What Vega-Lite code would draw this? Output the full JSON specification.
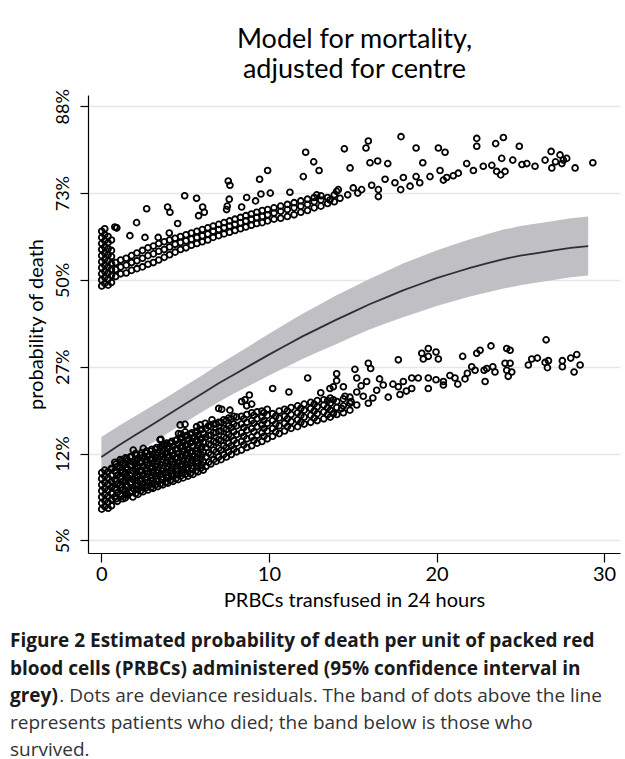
{
  "$schema": "https://vega.github.io/schema/vega-lite/v6.json",
  "width": 532,
  "height": 458,
  "autosize": {"type": "none"},
  "padding": {"left": 88, "top": 95, "right": 5, "bottom": 206},
  "background": "white",
  "config": {"view": {"stroke": null}, "font": "Lato"},
  "title": {
    "text": ["Figure 2 Estimated probability of death per unit of packed red", "blood cells (PRBCs) administered (95% confidence interval in", "grey)"],
    "subtitle": ["\u200b\u00a0\u00a0\u00a0\u00a0\u00a0\u00a0\u00a0\u00a0\u00a0\u00a0. Dots are deviance residuals. The band of dots above the line", "represents patients who died; the band below is those who", "survived."],
    "orient": "bottom", "anchor": "start", "frame": "group", "dx": -78, "offset": 22,
    "font": "Open Sans", "fontSize": 19, "fontWeight": "bold", "color": "#1a1a1a", "lineHeight": 27.5,
    "subtitleFont": "Open Sans", "subtitleFontSize": 19, "subtitleFontWeight": "normal", "subtitleColor": "#333333", "subtitleLineHeight": 27, "subtitlePadding": -19
  },
  "datasets": {
    "fit": [
      {"x": 0, "fit": -2.04, "lo": -2.27, "hi": -1.81},
      {"x": 1, "fit": -1.91, "lo": -2.135, "hi": -1.685},
      {"x": 2, "fit": -1.79, "lo": -2.01, "hi": -1.57},
      {"x": 3, "fit": -1.67, "lo": -1.885, "hi": -1.455},
      {"x": 4, "fit": -1.55, "lo": -1.76, "hi": -1.34},
      {"x": 5, "fit": -1.43, "lo": -1.64, "hi": -1.22},
      {"x": 6, "fit": -1.31, "lo": -1.52, "hi": -1.10},
      {"x": 7, "fit": -1.19, "lo": -1.405, "hi": -0.975},
      {"x": 8, "fit": -1.08, "lo": -1.30, "hi": -0.86},
      {"x": 9, "fit": -0.97, "lo": -1.20, "hi": -0.74},
      {"x": 10, "fit": -0.86, "lo": -1.10, "hi": -0.62},
      {"x": 11, "fit": -0.755, "lo": -1.005, "hi": -0.505},
      {"x": 12, "fit": -0.65, "lo": -0.91, "hi": -0.39},
      {"x": 13, "fit": -0.555, "lo": -0.825, "hi": -0.285},
      {"x": 14, "fit": -0.46, "lo": -0.74, "hi": -0.18},
      {"x": 15, "fit": -0.37, "lo": -0.655, "hi": -0.085},
      {"x": 16, "fit": -0.28, "lo": -0.57, "hi": 0.01},
      {"x": 17, "fit": -0.20, "lo": -0.50, "hi": 0.10},
      {"x": 18, "fit": -0.12, "lo": -0.43, "hi": 0.19},
      {"x": 19, "fit": -0.05, "lo": -0.365, "hi": 0.265},
      {"x": 20, "fit": 0.02, "lo": -0.30, "hi": 0.34},
      {"x": 21, "fit": 0.08, "lo": -0.245, "hi": 0.405},
      {"x": 22, "fit": 0.14, "lo": -0.19, "hi": 0.47},
      {"x": 23, "fit": 0.19, "lo": -0.145, "hi": 0.525},
      {"x": 24, "fit": 0.24, "lo": -0.10, "hi": 0.58},
      {"x": 25, "fit": 0.28, "lo": -0.06, "hi": 0.62},
      {"x": 26, "fit": 0.31, "lo": -0.03, "hi": 0.65},
      {"x": 27, "fit": 0.34, "lo": 0.00, "hi": 0.68},
      {"x": 28, "fit": 0.37, "lo": 0.03, "hi": 0.71},
      {"x": 29.05, "fit": 0.39, "lo": 0.05, "hi": 0.73}
    ],
    "dots": [
      {"x":0.02,"y":-0.07},{"x":0.02,"y":0.00},{"x":0.02,"y":0.07},{"x":0.02,"y":0.14},{"x":0.02,"y":0.21},{"x":0.02,"y":0.28},{"x":0.02,"y":0.35},{"x":0.02,"y":0.42},{"x":0.02,"y":0.49},{"x":0.02,"y":0.56},
      {"x":0.2,"y":-0.04},{"x":0.2,"y":0.03},{"x":0.2,"y":0.10},{"x":0.2,"y":0.17},{"x":0.2,"y":0.24},{"x":0.2,"y":0.31},{"x":0.2,"y":0.38},{"x":0.2,"y":0.45},{"x":0.2,"y":0.52},{"x":0.2,"y":0.59},
      {"x":0.4,"y":-0.06},{"x":0.4,"y":0.01},{"x":0.4,"y":0.08},{"x":0.4,"y":0.15},{"x":0.4,"y":0.22},{"x":0.4,"y":0.29},{"x":0.4,"y":0.36},{"x":0.4,"y":0.43},{"x":0.4,"y":0.50},
      {"x":0.6,"y":-0.03},{"x":0.6,"y":0.05},{"x":0.6,"y":0.12},{"x":0.6,"y":0.19},{"x":0.6,"y":0.27},{"x":0.6,"y":0.34},{"x":0.6,"y":0.46},
      {"x":0.8,"y":0.61},{"x":0.91,"y":0.60},
      {"x":0.85,"y":0.04},{"x":0.85,"y":0.12},{"x":0.85,"y":0.20},
      {"x":1.15,"y":0.07},{"x":1.15,"y":0.15},{"x":1.15,"y":0.23},
      {"x":1.48,"y":0.08},{"x":1.48,"y":0.17},{"x":1.48,"y":0.25},
      {"x":1.80,"y":0.11},{"x":1.80,"y":0.20},{"x":1.80,"y":0.28},
      {"x":2.12,"y":0.13},{"x":2.12,"y":0.22},{"x":2.12,"y":0.31},
      {"x":2.45,"y":0.15},{"x":2.45,"y":0.25},{"x":2.45,"y":0.34},
      {"x":2.78,"y":0.18},{"x":2.78,"y":0.28},{"x":2.78,"y":0.37},
      {"x":3.10,"y":0.20},{"x":3.10,"y":0.30},{"x":3.10,"y":0.39},
      {"x":3.42,"y":0.23},{"x":3.42,"y":0.33},{"x":3.42,"y":0.42},
      {"x":3.75,"y":0.26},{"x":3.75,"y":0.35},{"x":3.75,"y":0.44},
      {"x":4.07,"y":0.29},{"x":4.07,"y":0.38},{"x":4.07,"y":0.46},
      {"x":4.40,"y":0.32},{"x":4.40,"y":0.41},{"x":4.40,"y":0.48},
      {"x":4.72,"y":0.35},{"x":4.72,"y":0.43},{"x":4.72,"y":0.50},
      {"x":5.05,"y":0.37},{"x":5.05,"y":0.45},{"x":5.05,"y":0.52},
      {"x":5.37,"y":0.40},{"x":5.37,"y":0.47},{"x":5.37,"y":0.54},
      {"x":5.70,"y":0.42},{"x":5.70,"y":0.49},{"x":5.70,"y":0.56},
      {"x":6.02,"y":0.44},{"x":6.02,"y":0.51},{"x":6.02,"y":0.58},
      {"x":6.35,"y":0.46},{"x":6.35,"y":0.53},{"x":6.35,"y":0.60},
      {"x":6.67,"y":0.49},{"x":6.67,"y":0.56},{"x":6.67,"y":0.62},
      {"x":7.00,"y":0.51},{"x":7.00,"y":0.58},{"x":7.00,"y":0.64},
      {"x":7.32,"y":0.53},{"x":7.32,"y":0.60},{"x":7.32,"y":0.66},
      {"x":7.65,"y":0.55},{"x":7.65,"y":0.62},{"x":7.65,"y":0.68},
      {"x":7.97,"y":0.57},{"x":7.97,"y":0.64},{"x":7.97,"y":0.70},
      {"x":8.30,"y":0.59},{"x":8.30,"y":0.66},{"x":8.30,"y":0.72},
      {"x":8.62,"y":0.61},{"x":8.62,"y":0.68},{"x":8.62,"y":0.74},
      {"x":8.95,"y":0.63},{"x":8.95,"y":0.70},{"x":8.95,"y":0.76},
      {"x":9.27,"y":0.65},{"x":9.27,"y":0.72},{"x":9.27,"y":0.78},
      {"x":9.60,"y":0.66},{"x":9.60,"y":0.73},{"x":9.60,"y":0.80},
      {"x":9.92,"y":0.68},{"x":9.92,"y":0.75},{"x":9.92,"y":0.81},
      {"x":10.3,"y":0.70},{"x":10.3,"y":0.77},{"x":10.3,"y":0.83},
      {"x":10.7,"y":0.71},{"x":10.7,"y":0.79},{"x":10.7,"y":0.85},
      {"x":11.1,"y":0.73},{"x":11.1,"y":0.81},{"x":11.1,"y":0.87},
      {"x":11.5,"y":0.75},{"x":11.5,"y":0.83},{"x":11.5,"y":0.89},
      {"x":11.9,"y":0.78},{"x":11.9,"y":0.85},{"x":11.9,"y":0.91},
      {"x":12.3,"y":0.80},{"x":12.3,"y":0.87},{"x":12.3,"y":0.93},
      {"x":12.7,"y":0.83},{"x":12.7,"y":0.90},{"x":12.7,"y":0.95},
      {"x":13.1,"y":0.85},{"x":13.1,"y":0.92},{"x":13.1,"y":0.97},
      {"x":13.5,"y":0.88},{"x":13.5,"y":0.95},
      {"x":13.9,"y":0.90},{"x":13.9,"y":0.98},
      {"x":0.91,"y":0.60},{"x":1.70,"y":0.51},{"x":2.10,"y":0.66},{"x":2.70,"y":0.82},{"x":2.60,"y":0.49},{"x":3.39,"y":0.49},{"x":3.95,"y":0.84},{"x":4.09,"y":0.78},{"x":4.55,"y":0.65},{"x":4.05,"y":0.54},{"x":4.97,"y":0.97},{"x":5.68,"y":0.94},{"x":6.04,"y":0.84},{"x":5.80,"y":0.74},{"x":6.14,"y":0.78},{"x":7.57,"y":1.14},{"x":7.67,"y":1.09},{"x":7.63,"y":0.93},{"x":7.51,"y":0.85},{"x":7.47,"y":0.81},{"x":8.37,"y":0.84},{"x":8.67,"y":0.95},{"x":9.20,"y":0.91},{"x":9.44,"y":1.16},{"x":9.52,"y":0.99},{"x":9.92,"y":1.26},{"x":10.08,"y":1.00},{"x":11.25,"y":1.01},{"x":12.05,"y":1.19},{"x":12.19,"y":1.47},{"x":12.67,"y":1.36},{"x":12.99,"y":1.26},{"x":12.85,"y":0.98},{"x":14.50,"y":1.51},{"x":14.14,"y":1.04},{"x":14.84,"y":1.29},
      {"x":15.79,"y":1.52},{"x":15.93,"y":1.60},{"x":16.03,"y":1.35},{"x":16.49,"y":1.37},{"x":17.09,"y":1.34},{"x":17.88,"y":1.65},{"x":18.78,"y":1.52},{"x":19.18,"y":1.35},{"x":20.11,"y":1.52},{"x":20.51,"y":1.47},{"x":22.40,"y":1.63},{"x":22.40,"y":1.54},{"x":23.53,"y":1.57},{"x":23.99,"y":1.64},{"x":24.94,"y":1.54},{"x":26.84,"y":1.48},{"x":28.27,"y":1.29},{"x":29.33,"y":1.35},
      {"x":13.64,"y":0.92},{"x":14.04,"y":1.02},{"x":14.24,"y":0.94},{"x":15.03,"y":1.06},{"x":15.53,"y":1.04},{"x":16.13,"y":1.09},{"x":16.53,"y":1.04},{"x":16.53,"y":0.96},{"x":16.93,"y":1.16},{"x":17.52,"y":1.12},{"x":17.86,"y":1.04},{"x":18.02,"y":1.18},{"x":18.42,"y":1.08},{"x":18.78,"y":1.19},{"x":19.61,"y":1.19},{"x":20.21,"y":1.26},{"x":20.41,"y":1.15},{"x":20.61,"y":1.18},{"x":21.30,"y":1.23},{"x":21.80,"y":1.34},{"x":22.20,"y":1.26},{"x":22.79,"y":1.31},{"x":23.30,"y":1.32},{"x":23.59,"y":1.25},{"x":23.89,"y":1.40},{"x":23.83,"y":1.21},{"x":24.09,"y":1.25},{"x":24.55,"y":1.38},{"x":25.39,"y":1.34},{"x":25.88,"y":1.31},{"x":26.48,"y":1.38},{"x":26.88,"y":1.29},{"x":27.37,"y":1.44},{"x":27.57,"y":1.38},{"x":27.48,"y":1.34},{"x":27.77,"y":1.40},{"x":14.7,"y":0.98},{"x":15.3,"y":1.00},{"x":19.0,"y":1.12},{"x":21.0,"y":1.20},{"x":25.1,"y":1.33},{"x":27.1,"y":1.36},
      {"x":0.02,"y":-2.64},{"x":0.02,"y":-2.57},{"x":0.02,"y":-2.50},{"x":0.02,"y":-2.43},{"x":0.02,"y":-2.36},{"x":0.02,"y":-2.29},{"x":0.02,"y":-2.22},
      {"x":0.2,"y":-2.61},{"x":0.2,"y":-2.54},{"x":0.2,"y":-2.47},{"x":0.2,"y":-2.40},{"x":0.2,"y":-2.33},{"x":0.2,"y":-2.26},{"x":0.2,"y":-2.19},
      {"x":0.4,"y":-2.63},{"x":0.4,"y":-2.56},{"x":0.4,"y":-2.49},{"x":0.4,"y":-2.42},{"x":0.4,"y":-2.35},{"x":0.4,"y":-2.28},{"x":0.4,"y":-2.21},
      {"x":0.6,"y":-2.60},{"x":0.6,"y":-2.53},{"x":0.6,"y":-2.46},{"x":0.6,"y":-2.39},{"x":0.6,"y":-2.32},{"x":0.6,"y":-2.25},{"x":0.6,"y":-2.18},
      {"x":0.80,"y":-2.50},{"x":0.80,"y":-2.40},{"x":0.80,"y":-2.30},{"x":0.80,"y":-2.20},{"x":0.80,"y":-2.10},
      {"x":1.12,"y":-2.47},{"x":1.12,"y":-2.36},{"x":1.12,"y":-2.27},{"x":1.12,"y":-2.16},{"x":1.12,"y":-2.07},
      {"x":1.43,"y":-2.51},{"x":1.43,"y":-2.42},{"x":1.43,"y":-2.31},{"x":1.43,"y":-2.22},{"x":1.43,"y":-2.12},{"x":1.43,"y":-2.05},
      {"x":1.71,"y":-2.45},{"x":1.71,"y":-2.34},{"x":1.71,"y":-2.25},{"x":1.71,"y":-2.14},{"x":1.71,"y":-2.04},
      {"x":2.04,"y":-2.46},{"x":2.04,"y":-2.37},{"x":2.04,"y":-2.28},{"x":2.04,"y":-2.18},{"x":2.04,"y":-2.08},{"x":2.04,"y":-2.00},
      {"x":2.33,"y":-2.43},{"x":2.33,"y":-2.32},{"x":2.33,"y":-2.21},{"x":2.33,"y":-2.11},{"x":2.33,"y":-2.02},
      {"x":2.62,"y":-2.40},{"x":2.62,"y":-2.30},{"x":2.62,"y":-2.20},{"x":2.62,"y":-2.10},{"x":2.62,"y":-1.99},
      {"x":2.95,"y":-2.39},{"x":2.95,"y":-2.28},{"x":2.95,"y":-2.17},{"x":2.95,"y":-2.07},{"x":2.95,"y":-1.97},
      {"x":3.22,"y":-2.36},{"x":3.22,"y":-2.26},{"x":3.22,"y":-2.15},{"x":3.22,"y":-2.05},{"x":3.22,"y":-1.95},
      {"x":3.51,"y":-2.35},{"x":3.51,"y":-2.24},{"x":3.51,"y":-2.13},{"x":3.51,"y":-2.03},{"x":3.51,"y":-1.93},
      {"x":3.83,"y":-2.33},{"x":3.83,"y":-2.22},{"x":3.83,"y":-2.11},{"x":3.83,"y":-2.00},{"x":3.83,"y":-1.90},
      {"x":4.12,"y":-2.31},{"x":4.12,"y":-2.20},{"x":4.12,"y":-2.09},{"x":4.12,"y":-1.98},{"x":4.12,"y":-1.88},
      {"x":4.44,"y":-2.29},{"x":4.44,"y":-2.18},{"x":4.44,"y":-2.06},{"x":4.44,"y":-1.95},{"x":4.44,"y":-1.85},
      {"x":4.73,"y":-2.26},{"x":4.73,"y":-2.15},{"x":4.73,"y":-2.04},{"x":4.73,"y":-1.93},{"x":4.73,"y":-1.83},
      {"x":5.02,"y":-2.24},{"x":5.02,"y":-2.13},{"x":5.02,"y":-2.02},{"x":5.02,"y":-1.91},{"x":5.02,"y":-1.80},
      {"x":5.31,"y":-2.23},{"x":5.31,"y":-2.11},{"x":5.31,"y":-1.99},{"x":5.31,"y":-1.88},{"x":5.31,"y":-1.78},
      {"x":5.63,"y":-2.20},{"x":5.63,"y":-2.09},{"x":5.63,"y":-1.97},{"x":5.63,"y":-1.86},{"x":5.63,"y":-1.76},
      {"x":5.92,"y":-2.17},{"x":5.92,"y":-2.06},{"x":5.92,"y":-1.95},{"x":5.92,"y":-1.84},{"x":5.92,"y":-1.73},
      {"x":6.24,"y":-2.15},{"x":6.24,"y":-2.04},{"x":6.24,"y":-1.93},{"x":6.24,"y":-1.81},{"x":6.24,"y":-1.71},
      {"x":6.53,"y":-2.12},{"x":6.53,"y":-2.01},{"x":6.53,"y":-1.90},{"x":6.53,"y":-1.79},{"x":6.53,"y":-1.69},
      {"x":6.85,"y":-2.09},{"x":6.85,"y":-1.98},{"x":6.85,"y":-1.87},{"x":6.85,"y":-1.76},{"x":6.85,"y":-1.66},
      {"x":7.14,"y":-2.07},{"x":7.14,"y":-1.96},{"x":7.14,"y":-1.85},{"x":7.14,"y":-1.74},{"x":7.14,"y":-1.64},
      {"x":7.46,"y":-2.04},{"x":7.46,"y":-1.93},{"x":7.46,"y":-1.82},{"x":7.46,"y":-1.72},{"x":7.46,"y":-1.62},
      {"x":7.75,"y":-2.01},{"x":7.75,"y":-1.91},{"x":7.75,"y":-1.80},{"x":7.75,"y":-1.70},{"x":7.75,"y":-1.60},
      {"x":8.07,"y":-1.98},{"x":8.07,"y":-1.88},{"x":8.07,"y":-1.78},{"x":8.07,"y":-1.68},{"x":8.07,"y":-1.58},
      {"x":8.36,"y":-1.96},{"x":8.36,"y":-1.86},{"x":8.36,"y":-1.76},{"x":8.36,"y":-1.66},{"x":8.36,"y":-1.57},
      {"x":8.68,"y":-1.93},{"x":8.68,"y":-1.83},{"x":8.68,"y":-1.73},{"x":8.68,"y":-1.64},{"x":8.68,"y":-1.55},
      {"x":8.97,"y":-1.91},{"x":8.97,"y":-1.81},{"x":8.97,"y":-1.71},{"x":8.97,"y":-1.62},{"x":8.97,"y":-1.53},
      {"x":9.29,"y":-1.88},{"x":9.29,"y":-1.79},{"x":9.29,"y":-1.69},{"x":9.29,"y":-1.60},{"x":9.29,"y":-1.52},
      {"x":9.58,"y":-1.86},{"x":9.58,"y":-1.76},{"x":9.58,"y":-1.67},{"x":9.58,"y":-1.58},{"x":9.58,"y":-1.51},
      {"x":9.90,"y":-1.83},{"x":9.90,"y":-1.74},{"x":9.90,"y":-1.65},{"x":9.90,"y":-1.56},{"x":9.90,"y":-1.49},
      {"x":10.22,"y":-1.80},{"x":10.22,"y":-1.71},{"x":10.22,"y":-1.62},{"x":10.22,"y":-1.54},
      {"x":10.61,"y":-1.77},{"x":10.61,"y":-1.68},{"x":10.61,"y":-1.59},{"x":10.61,"y":-1.51},
      {"x":10.93,"y":-1.74},{"x":10.93,"y":-1.65},{"x":10.93,"y":-1.57},{"x":10.93,"y":-1.49},
      {"x":11.32,"y":-1.71},{"x":11.32,"y":-1.63},{"x":11.32,"y":-1.55},{"x":11.32,"y":-1.47},
      {"x":11.71,"y":-1.69},{"x":11.71,"y":-1.61},{"x":11.71,"y":-1.53},{"x":11.71,"y":-1.45},
      {"x":12.10,"y":-1.66},{"x":12.10,"y":-1.58},{"x":12.10,"y":-1.50},{"x":12.10,"y":-1.43},
      {"x":12.49,"y":-1.64},{"x":12.49,"y":-1.56},{"x":12.49,"y":-1.48},{"x":12.49,"y":-1.41},
      {"x":12.88,"y":-1.62},{"x":12.88,"y":-1.54},{"x":12.88,"y":-1.46},{"x":12.88,"y":-1.39},
      {"x":13.27,"y":-1.60},{"x":13.27,"y":-1.52},{"x":13.27,"y":-1.44},{"x":13.27,"y":-1.38},
      {"x":13.66,"y":-1.58},{"x":13.66,"y":-1.50},{"x":13.66,"y":-1.42},{"x":13.66,"y":-1.36},
      {"x":14.05,"y":-1.55},{"x":14.05,"y":-1.47},{"x":14.05,"y":-1.40},
      {"x":14.44,"y":-1.53},{"x":14.44,"y":-1.45},{"x":14.44,"y":-1.37},
      {"x":14.83,"y":-1.50},{"x":14.83,"y":-1.42},{"x":14.83,"y":-1.35},
      {"x":0.95,"y":-2.55},{"x":0.95,"y":-2.45},{"x":0.95,"y":-2.35},{"x":0.95,"y":-2.25},{"x":0.95,"y":-2.15},
      {"x":1.27,"y":-2.52},{"x":1.27,"y":-2.42},{"x":1.27,"y":-2.32},{"x":1.27,"y":-2.21},{"x":1.27,"y":-2.11},
      {"x":1.57,"y":-2.48},{"x":1.57,"y":-2.38},{"x":1.57,"y":-2.28},{"x":1.57,"y":-2.18},{"x":1.57,"y":-2.08},
      {"x":1.88,"y":-2.50},{"x":1.88,"y":-2.40},{"x":1.88,"y":-2.30},{"x":1.88,"y":-2.20},{"x":1.88,"y":-2.10},
      {"x":2.18,"y":-2.47},{"x":2.18,"y":-2.37},{"x":2.18,"y":-2.26},{"x":2.18,"y":-2.16},{"x":2.18,"y":-2.06},
      {"x":2.48,"y":-2.44},{"x":2.48,"y":-2.35},{"x":2.48,"y":-2.25},{"x":2.48,"y":-2.15},{"x":2.48,"y":-2.05},
      {"x":2.78,"y":-2.42},{"x":2.78,"y":-2.33},{"x":2.78,"y":-2.23},{"x":2.78,"y":-2.13},{"x":2.78,"y":-2.03},
      {"x":3.08,"y":-2.40},{"x":3.08,"y":-2.31},{"x":3.08,"y":-2.21},{"x":3.08,"y":-2.11},{"x":3.08,"y":-2.01},
      {"x":3.37,"y":-2.38},{"x":3.37,"y":-2.29},{"x":3.37,"y":-2.19},{"x":3.37,"y":-2.09},{"x":3.37,"y":-1.99},
      {"x":3.67,"y":-2.36},{"x":3.67,"y":-2.27},{"x":3.67,"y":-2.17},{"x":3.67,"y":-2.07},{"x":3.67,"y":-1.97},
      {"x":3.97,"y":-2.34},{"x":3.97,"y":-2.25},{"x":3.97,"y":-2.15},{"x":3.97,"y":-2.04},{"x":3.97,"y":-1.94},
      {"x":4.28,"y":-2.32},{"x":4.28,"y":-2.23},{"x":4.28,"y":-2.12},{"x":4.28,"y":-2.02},{"x":4.28,"y":-1.92},
      {"x":4.58,"y":-2.30},{"x":4.58,"y":-2.20},{"x":4.58,"y":-2.10},{"x":4.58,"y":-2.00},{"x":4.58,"y":-1.89},
      {"x":4.88,"y":-2.28},{"x":4.88,"y":-2.18},{"x":4.88,"y":-2.08},{"x":4.88,"y":-1.97},{"x":4.88,"y":-1.87},
      {"x":5.17,"y":-2.26},{"x":5.17,"y":-2.16},{"x":5.17,"y":-2.06},{"x":5.17,"y":-1.95},{"x":5.17,"y":-1.84},
      {"x":5.47,"y":-2.24},{"x":5.47,"y":-2.14},{"x":5.47,"y":-2.03},{"x":5.47,"y":-1.92},{"x":5.47,"y":-1.82},
      {"x":5.77,"y":-2.21},{"x":5.77,"y":-2.11},{"x":5.77,"y":-2.00},{"x":5.77,"y":-1.90},{"x":5.77,"y":-1.79},
      {"x":6.08,"y":-2.19},{"x":6.08,"y":-2.09},{"x":6.08,"y":-1.98},{"x":6.08,"y":-1.87},{"x":6.08,"y":-1.77},
      {"x":0.88,"y":-2.52},{"x":0.88,"y":-2.42},{"x":0.88,"y":-2.32},{"x":0.88,"y":-2.22},{"x":0.88,"y":-2.12},
      {"x":1.20,"y":-2.49},{"x":1.20,"y":-2.39},{"x":1.20,"y":-2.29},{"x":1.20,"y":-2.19},{"x":1.20,"y":-2.09},
      {"x":1.50,"y":-2.46},{"x":1.50,"y":-2.36},{"x":1.50,"y":-2.26},{"x":1.50,"y":-2.16},{"x":1.50,"y":-2.06},
      {"x":1.80,"y":-2.43},{"x":1.80,"y":-2.33},{"x":1.80,"y":-2.23},{"x":1.80,"y":-2.13},{"x":1.80,"y":-2.03},
      {"x":2.10,"y":-2.41},{"x":2.10,"y":-2.31},{"x":2.10,"y":-2.21},{"x":2.10,"y":-2.11},{"x":2.10,"y":-2.02},
      {"x":2.40,"y":-2.39},{"x":2.40,"y":-2.29},{"x":2.40,"y":-2.19},{"x":2.40,"y":-2.09},{"x":2.40,"y":-1.99},
      {"x":2.70,"y":-2.37},{"x":2.70,"y":-2.27},{"x":2.70,"y":-2.17},{"x":2.70,"y":-2.07},{"x":2.70,"y":-1.97},
      {"x":3.00,"y":-2.35},{"x":3.00,"y":-2.25},{"x":3.00,"y":-2.15},{"x":3.00,"y":-2.05},{"x":3.00,"y":-1.95},
      {"x":3.30,"y":-2.32},{"x":3.30,"y":-2.22},{"x":3.30,"y":-2.12},{"x":3.30,"y":-2.02},{"x":3.30,"y":-1.93},
      {"x":3.60,"y":-2.30},{"x":3.60,"y":-2.20},{"x":3.60,"y":-2.10},{"x":3.60,"y":-2.00},{"x":3.60,"y":-1.91},
      {"x":3.90,"y":-2.28},{"x":3.90,"y":-2.18},{"x":3.90,"y":-2.08},{"x":3.90,"y":-1.98},{"x":3.90,"y":-1.88},
      {"x":4.20,"y":-2.26},{"x":4.20,"y":-2.16},{"x":4.20,"y":-2.06},{"x":4.20,"y":-1.96},{"x":4.20,"y":-1.86},
      {"x":4.50,"y":-2.24},{"x":4.50,"y":-2.14},{"x":4.50,"y":-2.04},{"x":4.50,"y":-1.94},{"x":4.50,"y":-1.84},
      {"x":4.80,"y":-2.22},{"x":4.80,"y":-2.12},{"x":4.80,"y":-2.01},{"x":4.80,"y":-1.91},{"x":4.80,"y":-1.81},
      {"x":5.10,"y":-2.19},{"x":5.10,"y":-2.09},{"x":5.10,"y":-1.99},{"x":5.10,"y":-1.89},{"x":5.10,"y":-1.79},
      {"x":5.40,"y":-2.17},{"x":5.40,"y":-2.07},{"x":5.40,"y":-1.97},{"x":5.40,"y":-1.86},{"x":5.40,"y":-1.76},
      {"x":5.70,"y":-2.15},{"x":5.70,"y":-2.05},{"x":5.70,"y":-1.94},{"x":5.70,"y":-1.84},{"x":5.70,"y":-1.74},
      {"x":6.00,"y":-2.13},{"x":6.00,"y":-2.02},{"x":6.00,"y":-1.92},{"x":6.00,"y":-1.82},{"x":6.00,"y":-1.72},
      {"x":6.40,"y":-2.10},{"x":6.40,"y":-1.99},{"x":6.40,"y":-1.89},{"x":6.40,"y":-1.79},{"x":6.40,"y":-1.68},
      {"x":6.70,"y":-2.07},{"x":6.70,"y":-1.96},{"x":6.70,"y":-1.86},{"x":6.70,"y":-1.76},{"x":6.70,"y":-1.66},
      {"x":7.00,"y":-2.04},{"x":7.00,"y":-1.94},{"x":7.00,"y":-1.84},{"x":7.00,"y":-1.74},{"x":7.00,"y":-1.64},
      {"x":7.30,"y":-2.01},{"x":7.30,"y":-1.91},{"x":7.30,"y":-1.81},{"x":7.30,"y":-1.71},{"x":7.30,"y":-1.61},
      {"x":7.60,"y":-1.98},{"x":7.60,"y":-1.88},{"x":7.60,"y":-1.78},{"x":7.60,"y":-1.68},{"x":7.60,"y":-1.59},
      {"x":7.90,"y":-1.95},{"x":7.90,"y":-1.85},{"x":7.90,"y":-1.75},{"x":7.90,"y":-1.66},{"x":7.90,"y":-1.57},
      {"x":8.5,"y":-1.90},{"x":8.5,"y":-1.80},{"x":8.5,"y":-1.70},{"x":8.5,"y":-1.60},
      {"x":9.1,"y":-1.85},{"x":9.1,"y":-1.75},{"x":9.1,"y":-1.65},{"x":9.1,"y":-1.56},
      {"x":9.7,"y":-1.80},{"x":9.7,"y":-1.71},{"x":9.7,"y":-1.62},{"x":9.7,"y":-1.53},
      {"x":10.4,"y":-1.75},{"x":10.4,"y":-1.66},{"x":10.4,"y":-1.57},
      {"x":11.1,"y":-1.69},{"x":11.1,"y":-1.60},{"x":11.1,"y":-1.51},
      {"x":11.9,"y":-1.64},{"x":11.9,"y":-1.56},{"x":11.9,"y":-1.48},
      {"x":12.7,"y":-1.59},{"x":12.7,"y":-1.51},{"x":12.7,"y":-1.43},
      {"x":13.5,"y":-1.55},{"x":13.5,"y":-1.47},{"x":13.5,"y":-1.39},
      {"x":0.6,"y":-2.17},{"x":1.9,"y":-1.96},{"x":2.5,"y":-1.94},{"x":3.5,"y":-1.84},{"x":3.7,"y":-1.90},{"x":4.6,"y":-1.77},{"x":5.0,"y":-1.75},{"x":4.7,"y":-1.67},{"x":5.9,"y":-1.67},{"x":6.2,"y":-1.65},{"x":6.6,"y":-1.61},{"x":7.0,"y":-1.48},
      {"x":3.55,"y":-1.835},{"x":4.75,"y":-1.774},{"x":4.99,"y":-1.663},{"x":5.68,"y":-1.69},{"x":7.18,"y":-1.49},{"x":7.67,"y":-1.50},{"x":8.37,"y":-1.40},{"x":8.57,"y":-1.38},{"x":8.83,"y":-1.325},{"x":8.97,"y":-1.43},{"x":8.67,"y":-1.45},{"x":10.22,"y":-1.25},{"x":11.19,"y":-1.29},{"x":12.31,"y":-1.13},{"x":13.09,"y":-1.30},{"x":13.64,"y":-1.25},{"x":14.04,"y":-1.08},{"x":14.04,"y":-1.16},{"x":14.54,"y":-1.34},
      {"x":13.84,"y":-1.23},{"x":14.44,"y":-1.23},{"x":13.84,"y":-1.38},{"x":14.34,"y":-1.48},{"x":13.84,"y":-1.54},{"x":15.13,"y":-1.03},{"x":15.24,"y":-1.13},{"x":15.93,"y":-0.96},{"x":16.07,"y":-1.02},{"x":15.83,"y":-1.17},{"x":15.24,"y":-1.29},{"x":15.24,"y":-1.44},{"x":15.93,"y":-1.42},{"x":15.63,"y":-1.34},{"x":16.43,"y":-1.27},{"x":16.82,"y":-1.21},{"x":17.12,"y":-1.35},{"x":17.72,"y":-0.92},{"x":17.72,"y":-1.23},{"x":17.82,"y":-1.32},{"x":18.02,"y":-1.17},{"x":18.52,"y":-1.13},{"x":18.52,"y":-1.25},{"x":19.12,"y":-0.845},{"x":19.51,"y":-0.79},{"x":19.97,"y":-0.83},{"x":19.21,"y":-0.91},{"x":20.11,"y":-0.91},{"x":19.51,"y":-0.88},{"x":18.91,"y":-1.13},{"x":19.51,"y":-1.13},{"x":19.51,"y":-1.25},{"x":19.97,"y":-1.15},{"x":20.41,"y":-1.17},{"x":20.41,"y":-1.21},{"x":21.10,"y":-1.13},{"x":21.27,"y":-1.20},{"x":21.56,"y":-0.88},{"x":21.70,"y":-1.14},{"x":21.84,"y":-1.075},{"x":22.10,"y":-1.00},{"x":22.40,"y":-0.845},{"x":22.60,"y":-0.81},{"x":22.30,"y":-1.04},{"x":22.84,"y":-1.04},{"x":22.90,"y":-1.17},{"x":23.25,"y":-0.76},{"x":23.49,"y":-1.06},{"x":23.36,"y":-1.00},{"x":24.19,"y":-0.79},{"x":24.39,"y":-0.81},{"x":24.09,"y":-0.96},{"x":24.39,"y":-0.96},{"x":24.19,"y":-1.04},{"x":24.49,"y":-1.06},{"x":24.28,"y":-1.11},{"x":25.48,"y":-0.98},{"x":25.68,"y":-0.91},{"x":26.02,"y":-0.90},{"x":26.54,"y":-0.69},{"x":26.48,"y":-0.95},{"x":26.68,"y":-0.93},{"x":26.62,"y":-1.01},{"x":27.51,"y":-0.93},{"x":27.51,"y":-1.00},{"x":28.01,"y":-0.90},{"x":28.37,"y":-0.86},{"x":28.57,"y":-0.98},{"x":28.21,"y":-1.06},
      {"x":14.9,"y":-1.40},{"x":15.5,"y":-1.22},{"x":16.2,"y":-1.36},{"x":16.6,"y":-1.14},{"x":17.4,"y":-1.20},{"x":18.2,"y":-1.28},{"x":20.8,"y":-1.10},{"x":23.0,"y":-1.02}
    ]
  },
  "layer": [
    {
      "data": {"name": "fit"},
      "mark": {"type": "area", "color": "#c0bfc3", "opacity": 1},
      "encoding": {
        "x": {"field": "x", "type": "quantitative", "scale": {"domain": [-0.8, 30.95], "nice": false, "zero": false}, "axis": null},
        "y": {"field": "lo", "type": "quantitative", "title": "probability of death", "scale": {"domain": [-3.145, 2.13], "nice": false, "zero": false}},
        "y2": {"field": "hi"}
      }
    },
    {
      "data": {"name": "fit"},
      "mark": {"type": "line", "color": "#2e2e3a", "strokeWidth": 1.8},
      "encoding": {
        "x": {"field": "x", "type": "quantitative",
          "axis": {"orient": "top", "title": ["Model for mortality,", "adjusted for centre"], "labels": false, "ticks": false, "domain": false, "grid": false,
            "titleFont": "Lato", "titleFontSize": 27, "titleFontWeight": "normal", "titleColor": "#000000", "titlePadding": 12, "titleLineHeight": 30}},
        "y": {"field": "fit", "type": "quantitative", "title": "probability of death"}
      }
    },
    {
      "data": {"name": "dots"},
      "mark": {"type": "point", "shape": "circle", "filled": false, "stroke": "#000000", "strokeWidth": 1.8, "size": 34, "opacity": 1},
      "encoding": {
        "x": {"field": "x", "type": "quantitative", "title": "PRBCs transfused in 24 hours",
          "axis": {"values": [0, 10, 20, 30], "grid": false, "domainColor": "#000000", "domainWidth": 1.2, "tickColor": "#000000", "tickSize": 9, "tickWidth": 1.2,
            "labelFont": "Lato", "labelFontSize": 20, "labelColor": "#000000", "labelPadding": 2,
            "titleFont": "Lato", "titleFontSize": 20, "titleFontWeight": "normal", "titleColor": "#000000", "titlePadding": 6}},
        "y": {"field": "y", "type": "quantitative", "title": "probability of death",
          "axis": {"values": [-3, -2, -1, 0, 1, 2], "labelExpr": "format(1/(1+exp(-datum.value)), '.0%')",
            "grid": true, "gridColor": "#e6e6e6", "gridWidth": 1.3,
            "domainColor": "#000000", "domainWidth": 1.2, "tickColor": "#000000", "tickSize": 8, "tickWidth": 1.2,
            "labelAngle": -90, "labelAlign": "center", "labelBaseline": "alphabetic", "labelPadding": 12,
            "labelFont": "Lato", "labelFontSize": 18, "labelColor": "#000000",
            "titleFont": "Lato", "titleFontSize": 20, "titleFontWeight": "normal", "titleColor": "#000000", "titlePadding": 8}}
      }
    }
  ],
  "resolve": {"axis": {"x": "independent"}}
}
